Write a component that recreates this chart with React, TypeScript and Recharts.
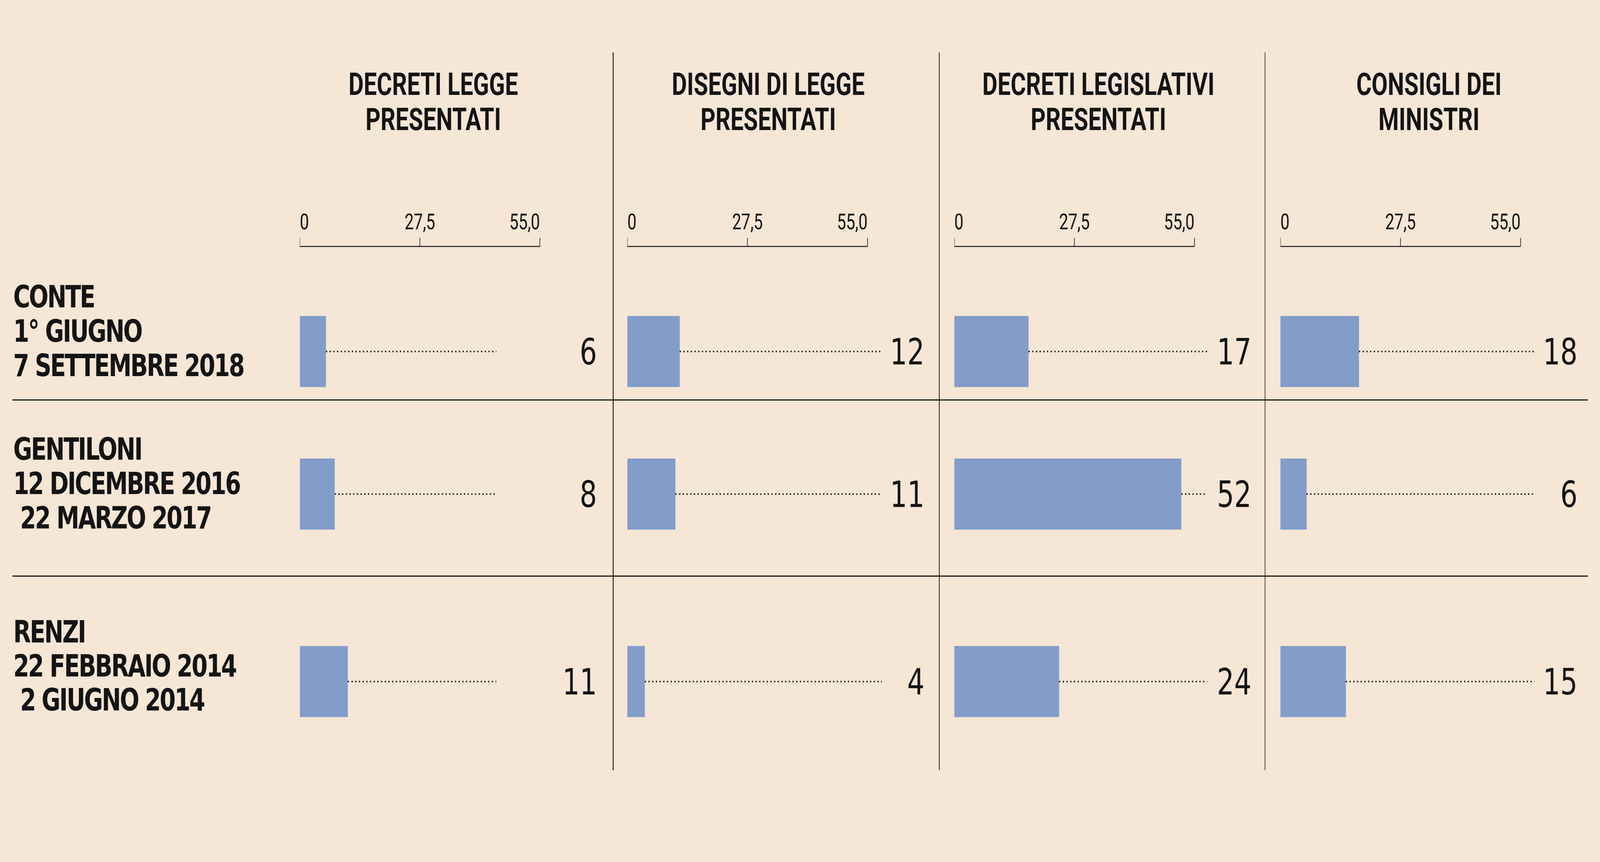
import React from 'react';
import { BarChart, Bar, XAxis, YAxis, ReferenceLine, LabelList } from 'recharts';

// ---- data ----
const CATEGORIES = ['Conte', 'Gentiloni', 'Renzi'];
const ROW_LABELS = [
  ['CONTE', '1° GIUGNO', '7 SETTEMBRE 2018'],
  ['GENTILONI', '12 DICEMBRE 2016', ' 22 MARZO 2017'],
  ['RENZI', '22 FEBBRAIO 2014', ' 2 GIUGNO 2014'],
];
const COLUMN_TITLES = [
  ['DECRETI LEGGE', 'PRESENTATI'],
  ['DISEGNI DI LEGGE', 'PRESENTATI'],
  ['DECRETI LEGISLATIVI', 'PRESENTATI'],
  ['CONSIGLI DEI', 'MINISTRI'],
];
const DECRETI_LEGGE = [6, 8, 11];
const DISEGNI_DI_LEGGE = [12, 11, 4];
const DECRETI_LEGISLATIVI = [17, 52, 24];
const CONSIGLI_DEI_MINISTRI = [18, 6, 15];
const SERIES = [DECRETI_LEGGE, DISEGNI_DI_LEGGE, DECRETI_LEGISLATIVI, CONSIGLI_DEI_MINISTRI];
const TICKS = [0, 27.5, 55];
const TICK_LABELS = ['0', '27,5', '55,0'];
const DOMAIN: [number, number] = [0, 55];

// ---- layout / style ----
const W = 5417;
const H = 2207;
const BG = '#f5e6d6';
const BAR = '#829dca';
const INK = '#141414';
const COL_X = [1015, 2124, 3231, 4335];
const HEADER_CX = [1467, 2601, 3719, 4838];
const LEADER_END = [45, 58.3, 57.9, 58.2];
const ROW_CY = [900, 1265, 1745];
const ROW_BASELINES = [
  [787, 875, 963],
  [1177, 1265, 1353],
  [1645, 1732, 1819],
];
const PLOT_W = 813;
const CHART_W = 1060;
const AXIS_H = 100;
const AXIS_Y = 631;
const CELL_H = 260;
const BAR_SIZE = 182;

const AxisTick = (props: any) => {
  const { x, y, index } = props;
  const anchor = index === 0 ? 'start' : index === TICKS.length - 1 ? 'end' : 'middle';
  return (
    <text x={x} y={y - 22} textAnchor={anchor} fontFamily="Roboto" fontSize={55} fill={INK}>
      {TICK_LABELS[index]}
    </text>
  );
};

const ValueLabel = (props: any) => {
  const { x, y, height, value } = props;
  return (
    <text
      x={x + 1006}
      y={y + height / 2 + 33}
      textAnchor="end"
      fontFamily="DejaVu Sans"
      fontSize={92}
      fill={INK}
    >
      {value}
    </text>
  );
};

function Cell({ col, row }: { col: number; row: number }) {
  const first = row === 0;
  const plotH = first ? 2 * (ROW_CY[0] - AXIS_Y) : CELL_H;
  const height = first ? AXIS_H + plotH : CELL_H;
  const top = first ? AXIS_Y - AXIS_H : ROW_CY[row] - CELL_H / 2;
  const data = [{ name: CATEGORIES[row], value: SERIES[col][row] }];
  return (
    <div style={{ position: 'absolute', left: COL_X[col], top, width: CHART_W, height }}>
      <BarChart
        width={CHART_W}
        height={height}
        data={data}
        layout="vertical"
        margin={{ top: 0, right: CHART_W - PLOT_W, bottom: 0, left: 0 }}
      >
        <XAxis
          type="number"
          domain={DOMAIN}
          ticks={TICKS}
          orientation="top"
          height={AXIS_H}
          hide={!first}
          interval={0}
          tickSize={22}
          tickMargin={0}
          tick={<AxisTick />}
          axisLine={{ stroke: INK, strokeWidth: 2.5 }}
          tickLine={{ stroke: INK, strokeWidth: 2 }}
          allowDataOverflow
        />
        <YAxis type="category" dataKey="name" hide />
        <ReferenceLine
          segment={[
            { x: SERIES[col][row], y: CATEGORIES[row] },
            { x: LEADER_END[col], y: CATEGORIES[row] },
          ]}
          stroke={INK}
          strokeWidth={4}
          strokeDasharray="4 8.5"
          ifOverflow="visible"
        />
        <Bar dataKey="value" fill={BAR} barSize={BAR_SIZE} isAnimationActive={false}>
          <LabelList dataKey="value" content={<ValueLabel />} />
        </Bar>
      </BarChart>
    </div>
  );
}

export default function App() {
  // the page may be narrower than the design width; fit the design horizontally
  const vw = typeof window !== 'undefined' ? window.innerWidth : W;
  const sx = Math.min(1, vw / W);
  return (
    <div
      style={{
        position: 'absolute',
        left: 0,
        top: 0,
        width: W,
        height: H,
        background: BG,
        overflow: 'hidden',
        transform: `scaleX(${sx})`,
        transformOrigin: '0 0',
      }}
    >
      <svg width={W} height={H} style={{ position: 'absolute', left: 0, top: 0 }}>
        {/* separators */}
        <line x1={2076} x2={2076} y1={134} y2={1972} stroke={INK} strokeWidth={3} />
        <line x1={3180} x2={3180} y1={134} y2={1972} stroke={INK} strokeWidth={2.5} />
        <line x1={4283} x2={4283} y1={134} y2={1972} stroke={INK} strokeWidth={2} />
        <line x1={42} x2={5376} y1={1024} y2={1024} stroke={INK} strokeWidth={3} />
        <line x1={42} x2={5376} y1={1475} y2={1475} stroke={INK} strokeWidth={3} />
        {/* column titles */}
        {COLUMN_TITLES.map((lines, c) =>
          lines.map((t, i) => (
            <text
              key={`h${c}${i}`}
              x={HEADER_CX[c]}
              y={243 + i * 90}
              textAnchor="middle"
              fontFamily="Roboto"
              fontWeight={700}
              fontSize={79}
              fill={INK}
            >
              {t}
            </text>
          ))
        )}
        {/* row labels */}
        {ROW_LABELS.map((lines, r) =>
          lines.map((t, i) => (
            <text
              key={`r${r}${i}`}
              x={45}
              y={ROW_BASELINES[r][i]}
              fontFamily="DejaVu Sans"
              fontWeight={700}
              fontSize={78}
              letterSpacing={-4.2}
              fill={INK}
              style={{ whiteSpace: 'pre' }}
            >
              {t}
            </text>
          ))
        )}
      </svg>
      {SERIES.map((_, c) => CATEGORIES.map((_, r) => <Cell key={`${c}-${r}`} col={c} row={r} />))}
    </div>
  );
}
